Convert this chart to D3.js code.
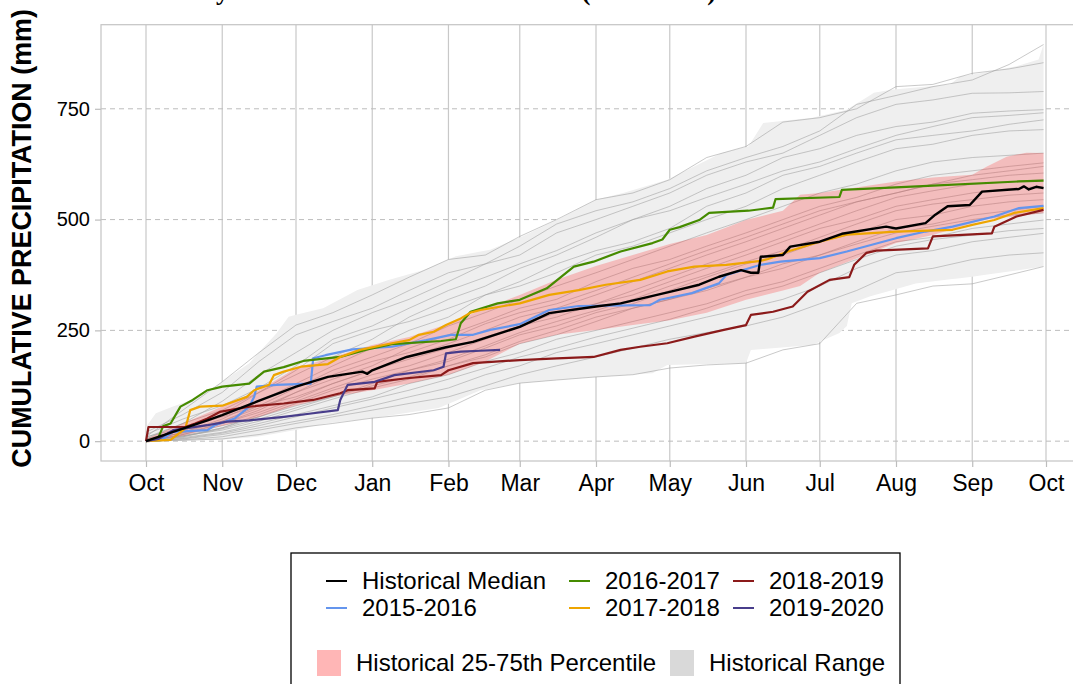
<!DOCTYPE html>
<html>
<head>
<meta charset="utf-8">
<script src="https://cdn.jsdelivr.net/npm/d3@7"></script>
<style>
  html, body { margin: 0; padding: 0; background: #ffffff; }
  svg { display: block; }
</style>
</head>
<body>
<svg id="chart" width="1073" height="684"></svg>
<script>
// ---- Axis labels -------------------------------------------------------
const monthLabels = ["Oct", "Nov", "Dec", "Jan", "Feb", "Mar", "Apr", "May", "Jun", "Jul", "Aug", "Sep", "Oct"];
const yTickValues = [0, 250, 500, 750];

// ---- Historical range envelope (day of water year, mm) -----------------
const rangeMaxDays = [0, 4, 11, 22, 31, 42, 53, 58, 72, 86, 99, 113, 126, 140, 153, 170, 183, 194, 212, 234, 245, 251, 271, 285, 296, 303, 327, 331, 340, 354, 363, 365];
const rangeMaxVals = [32, 63, 78, 100, 134, 176, 243, 281, 300, 341, 364, 386, 417, 432, 462, 507, 545, 560, 590, 650, 665, 718, 730, 748, 786, 793, 805, 823, 831, 846, 861, 895];
const rangeMinDays = [0, 31, 45, 61, 73, 92, 119, 136, 152, 183, 206, 212, 244, 246, 271, 282, 285, 287, 294, 313, 336, 365];
const rangeMinVals = [0, 3, 10, 25, 40, 52, 75, 115, 131, 145, 153, 172, 176, 206, 217, 244, 260, 311, 326, 356, 371, 394];

// ---- Historical 25-75th percentile band --------------------------------
const pctDays = [0, 15, 31, 46, 61, 76, 92, 107, 123, 138, 152, 167, 183, 198, 213, 228, 244, 259, 266, 274, 305, 320, 336, 342, 350, 358, 365];
const pct25 = [0, 12, 35, 55, 81, 100, 115, 130, 150, 180, 220, 240, 251, 262, 273, 290, 319, 340, 350, 380, 447, 465, 492, 500, 505, 510, 515];
const pct75 = [5, 40, 78, 115, 165, 190, 217, 235, 265, 300, 330, 364, 395, 420, 445, 465, 499, 520, 556, 560, 586, 595, 601, 620, 642, 651, 650];

// ---- Individual historical years (1st and mid-month totals, mm) ---------
const traceDays = [0, 15, 31, 46, 61, 76, 92, 107, 123, 138, 152, 167, 183, 198, 213, 228, 244, 259, 274, 289, 305, 320, 336, 351, 365];
const historicalTraces = [
  [20, 60, 110, 180, 240, 270, 300, 340, 380, 400, 440, 490, 520, 540, 570, 610, 640, 665, 700, 760, 780, 800, 815, 850, 895],
  [10, 70, 134, 200, 262, 290, 330, 370, 410, 420, 462, 500, 545, 560, 590, 640, 665, 720, 730, 750, 800, 805, 830, 840, 854],
  [5, 40, 90, 150, 200, 250, 290, 320, 360, 400, 420, 470, 500, 530, 560, 600, 630, 650, 690, 730, 760, 770, 785, 786, 789],
  [15, 50, 80, 120, 170, 230, 260, 300, 340, 370, 400, 430, 470, 500, 530, 570, 600, 640, 660, 690, 710, 720, 740, 745, 748],
  [0, 30, 60, 110, 150, 190, 230, 280, 320, 350, 390, 420, 460, 500, 520, 550, 580, 610, 630, 660, 690, 710, 730, 735, 741],
  [8, 40, 70, 110, 160, 220, 250, 270, 300, 330, 360, 400, 430, 450, 480, 530, 560, 600, 620, 650, 680, 690, 700, 715, 725],
  [0, 20, 50, 90, 130, 170, 210, 250, 280, 330, 350, 380, 420, 440, 470, 500, 530, 570, 600, 630, 660, 670, 690, 700, 703],
  [5, 25, 45, 80, 120, 160, 190, 220, 260, 290, 320, 350, 380, 410, 440, 470, 500, 530, 560, 580, 610, 630, 640, 645, 650],
  [0, 15, 40, 70, 110, 140, 170, 210, 240, 270, 300, 320, 360, 390, 410, 440, 470, 500, 530, 550, 580, 600, 610, 620, 628],
  [0, 20, 45, 75, 110, 150, 180, 200, 230, 265, 290, 310, 340, 370, 400, 430, 460, 490, 520, 540, 560, 580, 600, 610, 620],
  [10, 30, 55, 80, 100, 130, 160, 190, 220, 250, 280, 300, 330, 360, 390, 420, 450, 480, 510, 540, 560, 580, 590, 600, 605],
  [5, 18, 40, 65, 95, 130, 160, 185, 210, 235, 260, 280, 310, 340, 370, 400, 430, 460, 490, 520, 550, 565, 580, 585, 590],
  [0, 10, 30, 60, 90, 120, 150, 170, 200, 230, 260, 290, 310, 330, 360, 390, 420, 450, 480, 500, 530, 545, 560, 570, 575],
  [0, 12, 30, 55, 85, 115, 140, 160, 185, 215, 245, 270, 295, 320, 350, 375, 405, 430, 460, 490, 520, 535, 545, 555, 560],
  [0, 15, 35, 55, 80, 100, 130, 160, 180, 210, 240, 260, 290, 310, 340, 370, 400, 420, 450, 470, 500, 510, 530, 540, 545],
  [3, 12, 25, 45, 70, 95, 120, 140, 170, 190, 220, 240, 270, 300, 320, 340, 370, 400, 420, 450, 480, 490, 510, 520, 530],
  [2, 10, 28, 50, 75, 100, 125, 145, 170, 195, 225, 250, 280, 300, 320, 345, 370, 390, 420, 445, 470, 485, 500, 510, 515],
  [0, 8, 20, 40, 60, 80, 100, 130, 150, 180, 200, 230, 250, 270, 290, 310, 340, 360, 390, 420, 450, 460, 480, 490, 499],
  [0, 6, 18, 35, 55, 75, 95, 115, 140, 165, 190, 210, 235, 255, 275, 300, 330, 350, 380, 410, 440, 455, 465, 475, 480],
  [0, 5, 15, 30, 45, 60, 80, 100, 120, 150, 170, 200, 220, 240, 260, 280, 300, 320, 350, 390, 420, 430, 450, 460, 469],
  [0, 3, 10, 25, 40, 55, 70, 85, 100, 125, 150, 170, 190, 210, 230, 245, 260, 280, 310, 340, 380, 390, 410, 420, 425],
  [0, 2, 5, 15, 30, 40, 52, 60, 75, 115, 131, 138, 145, 150, 165, 172, 176, 206, 220, 311, 330, 350, 355, 375, 394]
];

// ---- Highlighted series: [day of water year, cumulative mm] -------------
const medianSeries = [[0,0],[11,21],[25,47],[31,59],[45,89],[61,123],[74,145],[88,157],[90,152],[92,160],[106,190],[122,212],[133,224],[152,258],[164,289],[183,304],[193,311],[213,337],[225,353],[233,371],[242,386],[246,380],[249,380],[250,416],[259,420],[262,439],[274,450],[283,468],[301,484],[305,480],[317,492],[321,511],[326,530],[335,533],[340,563],[355,569],[357,575],[359,568],[362,574],[365,571]];
const wy2016 = [[0,0],[6,2],[8,10],[11,21],[25,25],[28,36],[36,51],[42,78],[44,100],[45,123],[53,127],[67,130],[68,187],[73,194],[84,207],[100,213],[114,228],[124,240],[133,240],[140,251],[152,264],[164,296],[176,305],[205,307],[209,319],[222,334],[233,356],[236,375],[250,398],[258,405],[274,413],[285,428],[305,458],[317,473],[328,484],[345,507],[355,526],[365,531]];
const wy2017 = [[0,0],[5,8],[7,34],[10,40],[14,78],[19,93],[25,115],[31,123],[42,130],[48,157],[56,167],[64,181],[79,190],[90,207],[100,219],[120,226],[126,230],[128,266],[132,292],[143,311],[152,319],[163,345],[174,394],[182,405],[193,428],[206,447],[210,455],[213,477],[217,483],[225,499],[229,515],[245,520],[255,527],[256,546],[282,551],[283,567],[318,576],[355,586],[365,588]];
const wy2018 = [[0,0],[10,3],[16,29],[18,70],[22,78],[31,80],[41,100],[44,115],[50,127],[52,149],[56,157],[63,168],[74,174],[79,190],[87,206],[100,221],[107,228],[111,240],[117,247],[122,262],[128,277],[132,290],[136,296],[152,311],[164,330],[176,341],[187,353],[201,364],[212,383],[223,394],[236,398],[250,407],[253,411],[261,428],[274,450],[285,466],[305,473],[328,477],[336,488],[345,499],[353,515],[365,526]];
const wy2019 = [[0,0],[1,32],[16,32],[20,40],[25,51],[30,66],[42,78],[56,85],[68,93],[79,108],[82,115],[93,119],[94,134],[106,142],[120,149],[123,160],[133,176],[152,183],[167,187],[182,190],[193,206],[201,213],[212,221],[223,236],[235,251],[244,262],[246,285],[255,292],[263,304],[269,337],[278,364],[286,370],[288,398],[293,425],[297,430],[318,435],[320,462],[344,469],[345,484],[354,507],[365,522]];
const wy2020 = [[0,0],[5,5],[11,25],[25,36],[33,44],[42,47],[56,55],[68,63],[78,70],[79,93],[82,127],[93,134],[101,149],[117,160],[121,168],[122,198],[128,202],[136,204],[144,206]];

const seriesNames = ["Historical Median", "2015-2016", "2016-2017", "2017-2018", "2018-2019", "2019-2020"];
const seriesColors = ["#000000", "#6495ED", "#458B00", "#EEA500", "#8B1A1A", "#483D8B"];

// ---- Scales ------------------------------------------------------------
const svg = d3.select("#chart");
const panel = { left: 101, right: 1091, top: 24.7, bottom: 461 };

const wyStart = new Date(Date.UTC(2019, 9, 1));
const wyEnd = new Date(Date.UTC(2020, 9, 1));
const span = wyEnd - wyStart;
const toDate = d => new Date(wyStart.getTime() + d * 864e5);

const x = d3.scaleUtc()
  .domain([new Date(+wyStart - span * 0.05), new Date(+wyEnd + span * 0.05)])
  .range([panel.left, panel.right]);

const yMax = d3.max(rangeMaxVals);
const y = d3.scaleLinear()
  .domain([-0.05 * yMax, 1.05 * yMax])
  .range([panel.bottom, panel.top]);

// ---- Title (runs off the top edge) --------------------------------------
const titleText = "Daily Cumulative Rainfall at Station (USC00045)";
const title = svg.append("text")
  .attr("y", 0)
  .attr("font-family", "Liberation Serif, serif")
  .attr("font-weight", "bold")
  .attr("font-size", 27)
  .attr("fill", "#000")
  .text(titleText);
{
  const node = title.node();
  const full = node.getComputedTextLength();
  const pre = node.getSubStringLength(0, 4);
  const fs = 27 * 500 / (full - pre);
  title.attr("font-size", fs);
  const pre2 = node.getSubStringLength(0, 4);
  title.attr("x", 216 - pre2);
}

// ---- Clip for panel contents ------------------------------------------
svg.append("defs").append("clipPath").attr("id", "panelClip")
  .append("rect")
  .attr("x", panel.left).attr("y", panel.top)
  .attr("width", panel.right - panel.left).attr("height", panel.bottom - panel.top);

// ---- Grid ----------------------------------------------------------------
const monthTicks = d3.utcMonth.range(wyStart, new Date(+wyEnd + 864e5));
const grid = svg.append("g");
grid.selectAll("line.vgrid").data(monthTicks).join("line")
  .attr("x1", d => x(d)).attr("x2", d => x(d))
  .attr("y1", panel.top).attr("y2", panel.bottom)
  .attr("stroke", "#c8c8c8").attr("stroke-width", 1.2);
grid.selectAll("line.hgrid").data(yTickValues).join("line")
  .attr("x1", panel.left).attr("x2", panel.right)
  .attr("y1", d => y(d)).attr("y2", d => y(d))
  .attr("stroke", "#bdbdbd").attr("stroke-width", 1)
  .attr("stroke-dasharray", "5,4");

// ---- Data layers ---------------------------------------------------------
const plot = svg.append("g").attr("clip-path", "url(#panelClip)");

const minFn = d3.scaleLinear().domain(rangeMinDays).range(rangeMinVals);
const maxFn = d3.scaleLinear().domain(rangeMaxDays).range(rangeMaxVals);
const rangeDaysAll = Array.from(new Set(rangeMaxDays.concat(rangeMinDays))).sort((a, b) => a - b);
const rangeRows = rangeDaysAll.map(d => ({ d, lo: minFn(d), hi: maxFn(d) }));

plot.append("path")
  .datum(rangeRows)
  .attr("fill", "#efefef")
  .attr("d", d3.area().x(r => x(toDate(r.d))).y0(r => y(r.lo)).y1(r => y(r.hi)));

plot.selectAll("path.trace").data(historicalTraces).join("path")
  .attr("fill", "none")
  .attr("stroke", "#9e9e9e")
  .attr("stroke-opacity", 0.7)
  .attr("stroke-width", 0.8)
  .attr("d", vals => d3.line().x((v, i) => x(toDate(traceDays[i]))).y(v => y(v))(vals));

const pctRows = pctDays.map((d, i) => ({ d, lo: pct25[i], hi: pct75[i] }));
plot.append("path")
  .datum(pctRows)
  .attr("fill", "rgba(255,40,40,0.25)")
  .attr("d", d3.area().x(r => x(toDate(r.d))).y0(r => y(r.lo)).y1(r => y(r.hi)));

const lineGen = d3.line().x(p => x(toDate(p[0]))).y(p => y(p[1]));
const yearSeries = [wy2016, wy2017, wy2018, wy2019, wy2020];
yearSeries.forEach((s, i) => {
  plot.append("path").datum(s)
    .attr("fill", "none")
    .attr("stroke", seriesColors[i + 1])
    .attr("stroke-width", 2.2)
    .attr("stroke-linejoin", "round")
    .attr("d", lineGen);
});
plot.append("path").datum(medianSeries)
  .attr("fill", "none")
  .attr("stroke", seriesColors[0])
  .attr("stroke-width", 2.4)
  .attr("stroke-linejoin", "round")
  .attr("d", lineGen);

// ---- Panel border ----------------------------------------------------------
svg.append("rect")
  .attr("x", panel.left).attr("y", panel.top)
  .attr("width", panel.right - panel.left).attr("height", panel.bottom - panel.top)
  .attr("fill", "none").attr("stroke", "#c4c4c4").attr("stroke-width", 1.2);

// ---- Axes ----------------------------------------------------------------
const xAxis = d3.axisBottom(x)
  .tickValues(monthTicks)
  .tickSize(6)
  .tickPadding(8)
  .tickFormat((d, i) => monthLabels[i]);
const gx = svg.append("g").attr("transform", `translate(0,${panel.bottom})`).call(xAxis);
gx.select(".domain").remove();
gx.selectAll(".tick line").attr("stroke", "#bdbdbd").attr("stroke-width", 1.2);
gx.selectAll(".tick text")
  .attr("font-family", "Liberation Sans, Arial, sans-serif")
  .attr("font-size", 23).attr("fill", "#000");

const yAxis = d3.axisLeft(y).tickValues(yTickValues).tickSize(6).tickPadding(5);
const gy = svg.append("g").attr("transform", `translate(${panel.left},0)`).call(yAxis);
gy.select(".domain").remove();
gy.selectAll(".tick line").attr("stroke", "#bdbdbd").attr("stroke-width", 1.2);
gy.selectAll(".tick text")
  .attr("font-family", "Liberation Sans, Arial, sans-serif")
  .attr("font-size", 20).attr("fill", "#000");

svg.append("text")
  .attr("transform", `translate(31,${(panel.top + panel.bottom) / 2 - 4.5}) rotate(-90)`)
  .attr("text-anchor", "middle")
  .attr("font-family", "Liberation Sans, Arial, sans-serif")
  .attr("font-weight", "bold")
  .attr("font-size", 26.9)
  .attr("fill", "#000")
  .text("CUMULATIVE PRECIPITATION (mm)");

// ---- Legend ----------------------------------------------------------------
const legend = svg.append("g");
legend.append("rect")
  .attr("x", 291).attr("y", 553).attr("width", 609).attr("height", 160)
  .attr("fill", "#fff").attr("stroke", "#000").attr("stroke-width", 1.3);

const colX = [326, 569, 733];
const rowY = [581, 608];
seriesNames.forEach((name, i) => {
  const c = Math.floor(i / 2), r = i % 2;
  const g = legend.append("g");
  g.append("line")
    .attr("x1", colX[c]).attr("x2", colX[c] + 21)
    .attr("y1", rowY[r]).attr("y2", rowY[r])
    .attr("stroke", seriesColors[i]).attr("stroke-width", 2);
  g.append("text")
    .attr("x", colX[c] + 36).attr("y", rowY[r])
    .attr("dy", "0.35em")
    .attr("font-family", "Liberation Sans, Arial, sans-serif")
    .attr("font-size", 24).attr("fill", "#000")
    .text(name);
});

const fillKeys = [
  { label: "Historical 25-75th Percentile", color: "#ffb6b6", x: 317 },
  { label: "Historical Range", color: "#d9d9d9", x: 670 }
];
fillKeys.forEach(k => {
  legend.append("rect")
    .attr("x", k.x).attr("y", 650).attr("width", 24).attr("height", 26)
    .attr("fill", k.color);
  legend.append("text")
    .attr("x", k.x + 39).attr("y", 663).attr("dy", "0.35em")
    .attr("font-family", "Liberation Sans, Arial, sans-serif")
    .attr("font-size", 24).attr("fill", "#000")
    .text(k.label);
});
</script>
</body>
</html>
